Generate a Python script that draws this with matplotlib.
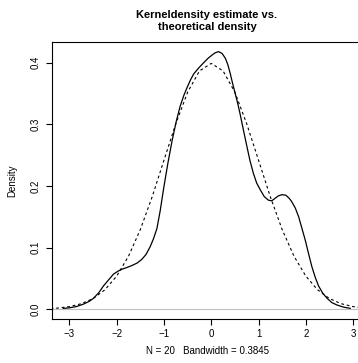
import matplotlib.pyplot as plt

plt.rcParams['font.family'] = ['Liberation Sans', 'DejaVu Sans']

# kernel density estimate
kde_x = [-3.13, -3.0, -2.85, -2.70, -2.58, -2.49, -2.38, -2.28, -2.17, -2.07,
         -1.97, -1.89, -1.78, -1.68, -1.57, -1.47, -1.38, -1.29, -1.22, -1.15,
         -1.08, -1.01, -0.92, -0.83, -0.74, -0.66, -0.58, -0.51, -0.44, -0.37,
         -0.26, -0.16, -0.07, 0.01, 0.08, 0.155, 0.23, 0.30, 0.35, 0.40,
         0.45, 0.507, 0.56, 0.61, 0.68, 0.755, 0.82, 0.89, 0.96, 1.04,
         1.12, 1.21, 1.28, 1.35, 1.42, 1.50, 1.58, 1.65, 1.70, 1.78,
         1.85, 1.92, 1.99, 2.06, 2.13, 2.20, 2.27, 2.36, 2.45, 2.55,
         2.66, 2.80, 2.94]
kde_y = [0.0015, 0.0025, 0.0045, 0.0086, 0.013, 0.018, 0.027, 0.038, 0.048, 0.057,
         0.062, 0.065, 0.068, 0.071, 0.075, 0.081, 0.089, 0.102, 0.115, 0.131,
         0.160, 0.195, 0.236, 0.273, 0.305, 0.329, 0.347, 0.360, 0.372, 0.382,
         0.392, 0.400, 0.407, 0.412, 0.416, 0.418, 0.415, 0.407, 0.397, 0.383,
         0.367, 0.350, 0.334, 0.317, 0.291, 0.264, 0.241, 0.221, 0.205, 0.1935,
         0.183, 0.177, 0.176, 0.180, 0.184, 0.186, 0.185, 0.180, 0.175, 0.164,
         0.150, 0.131, 0.112, 0.090, 0.069, 0.052, 0.038, 0.026, 0.018, 0.011,
         0.007, 0.0035, 0.0016]

# theoretical density (dashed)
theo_x = [-3.4, -3.25, -3.0, -2.75, -2.5, -2.25, -2.0, -1.75, -1.5, -1.25, -1.0,
          -0.75, -0.5, -0.25, 0.0, 0.25, 0.5, 0.75, 1.0, 1.25, 1.5, 1.75, 2.0,
          2.25, 2.5, 2.75, 3.0, 3.2]
theo_y = [0.0012, 0.002, 0.0044, 0.0091, 0.0175, 0.0317, 0.054, 0.0863, 0.1295,
          0.1826, 0.242, 0.3011, 0.3521, 0.3867, 0.3989, 0.3867, 0.3521, 0.3011,
          0.242, 0.1826, 0.1295, 0.0863, 0.054, 0.0317, 0.0175, 0.0091, 0.0044, 0.0024]

xticks = [-3, -2, -1, 0, 1, 2, 3]
yticks = [0.0, 0.1, 0.2, 0.3, 0.4]

fig = plt.figure(figsize=(3.58, 3.63), dpi=100)
ax = fig.add_axes([52 / 358, 1 - 319 / 363, 310 / 358, 277 / 363])

ax.axhline(0, color='#bebebe', lw=0.8, zorder=1)
ax.plot(theo_x, theo_y, color='black', lw=0.8, dashes=(2.5, 2.5), zorder=2)
ax.plot(kde_x, kde_y, color='black', lw=0.9, zorder=3)

ax.set_xlim(-3.37, 3.19)
ax.set_ylim(-0.0157, 0.4336)
ax.set_xticks(xticks)
ax.set_xticklabels(['\u22123', '\u22122', '\u22121', '0', '1', '2', '3'])
ax.set_yticks(yticks)
ax.set_yticklabels(['0.0', '0.1', '0.2', '0.3', '0.4'], rotation=90, va='center')
ax.tick_params(direction='out', length=4, width=0.8, labelsize=7, pad=3)
ax.tick_params(axis='y', pad=4)
for s in ax.spines.values():
    s.set_linewidth(0.8)

ax.set_xlabel('N = 20   Bandwidth = 0.3845', fontsize=7, labelpad=5)
ax.set_ylabel('Density', fontsize=7, labelpad=10)
fig.text(207 / 358, 1 - 21 / 363, 'Kerneldensity estimate vs.\ntheoretical density',
         ha='center', va='center', fontsize=8, fontweight='bold', linespacing=1.25)

fig.savefig('out.png', dpi=100)
